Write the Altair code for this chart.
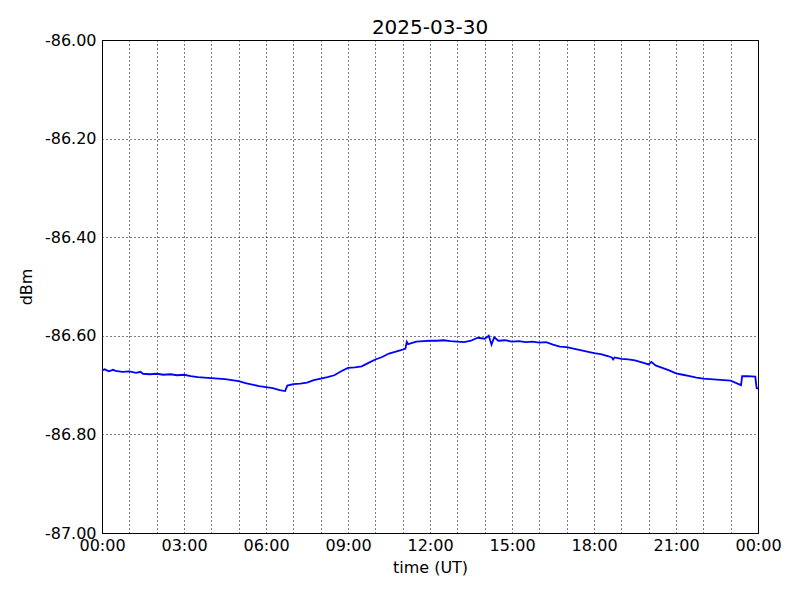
import altair as alt
import pandas as pd

hours = [0.00, 0.10, 0.25, 0.40, 0.50, 0.75, 1.00, 1.25, 1.40, 1.50, 1.75, 2.00, 2.25, 2.50, 2.75,
         3.00, 3.25, 3.50, 3.75, 4.00, 4.25, 4.50, 4.75, 5.00, 5.25, 5.50, 5.75, 6.00, 6.25,
         6.50, 6.70, 6.78, 7.00, 7.25, 7.50, 7.75, 8.00, 8.25, 8.50, 8.75, 9.00, 9.25, 9.50,
         9.75, 10.00, 10.25, 10.50, 10.75, 11.00, 11.10, 11.15, 11.20, 11.50, 11.75, 12.00,
         12.25, 12.50, 12.75, 13.00, 13.25, 13.50, 13.75, 14.00, 14.15, 14.25, 14.35, 14.50,
         14.75, 15.00, 15.25, 15.50, 15.75, 16.00, 16.25, 16.50, 16.75, 17.00, 17.25, 17.50,
         17.75, 18.00, 18.25, 18.50, 18.65, 18.70, 18.75, 19.00, 19.25, 19.50, 19.75, 20.00,
         20.10, 20.25, 20.50, 20.75, 21.00, 21.25, 21.50, 21.75, 22.00, 22.25, 22.50, 22.75,
         23.00, 23.25, 23.38, 23.42, 23.60, 23.90, 23.95, 24.00]
dbm = [-86.670, -86.668, -86.672, -86.669, -86.671, -86.673, -86.672, -86.675, -86.673, -86.677,
       -86.678, -86.677, -86.679, -86.678, -86.680, -86.679, -86.682, -86.684, -86.685, -86.686,
       -86.687, -86.688, -86.690, -86.692, -86.696, -86.699, -86.702, -86.704, -86.706, -86.710,
       -86.712, -86.701, -86.698, -86.697, -86.695, -86.690, -86.687, -86.684, -86.680, -86.672,
       -86.665, -86.664, -86.662, -86.655, -86.648, -86.643, -86.636, -86.632, -86.628, -86.626,
       -86.612, -86.617, -86.612, -86.611, -86.610, -86.610, -86.609, -86.611, -86.612, -86.613,
       -86.610, -86.604, -86.606, -86.600, -86.618, -86.603, -86.610, -86.609, -86.612, -86.611,
       -86.613, -86.612, -86.614, -86.613, -86.618, -86.622, -86.623, -86.626, -86.629, -86.632,
       -86.635, -86.637, -86.641, -86.644, -86.648, -86.644, -86.647, -86.648, -86.650, -86.654,
       -86.658, -86.653, -86.660, -86.665, -86.670, -86.676, -86.679, -86.682, -86.685, -86.687,
       -86.688, -86.689, -86.690, -86.691, -86.697, -86.700, -86.682, -86.682, -86.683, -86.706,
       -86.707]

x_ticks = list(range(0, 25))
y_ticks = [-87.0, -86.8, -86.6, -86.4, -86.2, -86.0]

df = pd.DataFrame({"hour": hours, "dbm": dbm})

FONT = "DejaVu Sans"

chart = alt.Chart(df).mark_line(color="#0000ff", strokeWidth=1.8).encode(
    x=alt.X("hour:Q",
            scale=alt.Scale(domain=[0, 24], nice=False, zero=False),
            axis=alt.Axis(values=x_ticks, title="time (UT)",
                          labelExpr="datum.value % 3 == 0 ? ((datum.value % 24 < 10 ? '0' : '') + (datum.value % 24) + ':00') : ''",
                          labelOverlap=False, labelFlush=False, labelBound=False,
                          ticks=False, labelPadding=4,
                          grid=True, gridColor="black", gridDash=[1, 3], gridOpacity=1,
                          titlePadding=6)),
    y=alt.Y("dbm:Q",
            scale=alt.Scale(domain=[-87, -86], nice=False, zero=False),
            axis=alt.Axis(values=y_ticks, title="dBm",
                          labelExpr="replace(format(datum.value, '.2f'), '\u2212', '-')",
                          labelFlush=False, labelBound=False,
                          ticks=False, labelPadding=6,
                          grid=True, gridColor="black", gridDash=[1, 3], gridOpacity=1,
                          titlePadding=10)),
).properties(
    width=656, height=493,
    title=alt.TitleParams("2025-03-30", fontSize=20, font=FONT, fontWeight="normal", offset=-6),
    autosize=alt.AutoSizeParams(type="none"),
    padding={"left": 94, "top": 32, "right": 32, "bottom": 55},
).configure_view(
    stroke="black", strokeWidth=1
).configure_axis(
    labelFont=FONT, titleFont=FONT, labelFontSize=16, titleFontSize=16,
    labelColor="black", titleColor="black", titleFontWeight="normal",
    domainColor="black", domainWidth=1
)

chart.save("out.html", embed_options={"renderer": "svg", "actions": False})
